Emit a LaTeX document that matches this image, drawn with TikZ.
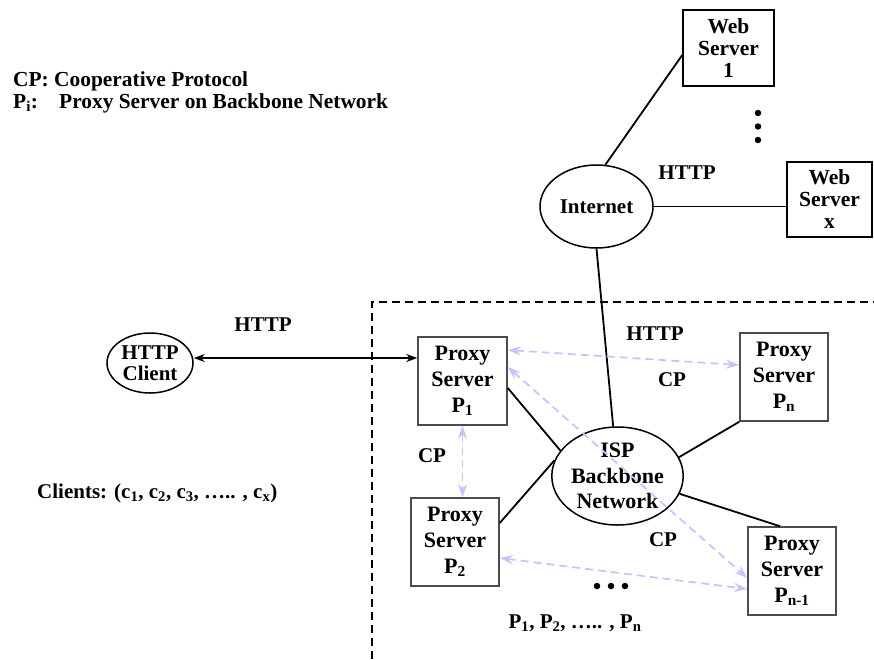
\documentclass[tikz,border=0pt]{standalone}
\usepackage{fontspec}
\setmainfont{Liberation Serif}
\usetikzlibrary{shapes.geometric,arrows.meta}
\tikzset{
  every node/.style={font=\bfseries},
  boxtext/.style={font=\fontsize{22}{26}\selectfont\bfseries, align=center},
  lbl/.style={font=\fontsize{21}{24}\selectfont\bfseries, inner sep=0pt},
  webbox/.style={font=\fontsize{21.5}{22}\selectfont\bfseries, align=center,
                 draw=black, line width=1.5pt, rectangle, inner sep=0pt},
  proxybox/.style={boxtext, draw=black!70, line width=1.5pt, rectangle, inner sep=0pt,
                   minimum width=88pt, minimum height=88pt},
  cloud/.style={boxtext, draw=black, line width=1.5pt, ellipse, inner sep=0pt},
  link/.style={line width=1.8pt, black},
  cp/.style={line width=1.7pt, draw={rgb,255:red,196;green,196;blue,250},
             dash pattern=on 8pt off 5pt, {Stealth[length=13pt,width=9pt]}-{Stealth[length=13pt,width=9pt]}},
  dot/.style={circle, fill=black, inner sep=0pt, minimum size=6.5pt},
}
\begin{document}
\begin{tikzpicture}[x=1pt, y=-1pt]
\useasboundingbox (0,0) rectangle (874,659);

% legend
\node[font=\fontsize{21.4}{22}\selectfont\bfseries, anchor=west, align=left, inner sep=0pt] (legend) at (13,92)
  {CP: Cooperative Protocol\\
   \makebox[46pt][l]{P\textsubscript{i}:}Proxy Server on Backbone Network};

% web servers and the Internet
\node[webbox, minimum width=91pt, minimum height=76pt] (ws1) at (728.5,48) {Web\\Server\\1};
\node[webbox, minimum width=85pt, minimum height=75pt] (wsx) at (829.5,199.5) {Web\\Server\\x};
\node[cloud, font=\fontsize{21}{24}\selectfont\bfseries, minimum width=113pt, minimum height=83pt] (inet) at (596.5,206.5) {Internet};
\node[dot] (d1) at (758,113) {};
\node[dot] (d2) at (758,126.5) {};
\node[dot] (d3) at (758,140) {};
\node[lbl] (httpweb) at (687,173) {HTTP};

% backbone region
\draw[line width=1.6pt, dash pattern=on 8pt off 5pt] (372,659) -- (372,302) -- (874,302);

\node[cloud, font=\fontsize{21}{21}\selectfont\bfseries, minimum width=86pt, minimum height=60pt] (client) at (150,363) {HTTP\\Client};
\node[lbl] (httpcl) at (263,325) {HTTP};
\node[lbl, anchor=west] (clients) at (37,493)
  {Clients: (c\textsubscript{1}, c\textsubscript{2}, c\textsubscript{3}, ….. , c\textsubscript{x})};

\node[proxybox, minimum width=89pt] (p1) at (462.5,381) {Proxy\\Server\\P\textsubscript{1}};
\node[proxybox] (pn) at (784,377) {Proxy\\Server\\P\textsubscript{n}};
\node[proxybox] (p2) at (455,542) {Proxy\\Server\\P\textsubscript{2}};
\node[proxybox] (pm) at (792,571) {Proxy\\Server\\P\textsubscript{n-1}};
\node[cloud, font=\fontsize{22}{25.5}\selectfont\bfseries, minimum width=129pt, minimum height=98pt] (isp) at (617.5,476) {ISP\\Backbone\\Network};

\node[lbl] (httpisp) at (655,334) {HTTP};
\node[lbl] (cptop) at (672,380) {CP};
\node[lbl] (cpleft) at (432,456) {CP};
\node[lbl] (cpbot) at (663,540) {CP};
\node[dot] (e1) at (597,586) {};
\node[dot] (e2) at (611,586) {};
\node[dot] (e3) at (625,586) {};
\node[lbl] (plist) at (575,623) {P\textsubscript{1}, P\textsubscript{2}, ….. , P\textsubscript{n}};

% HTTP links
\draw[link] (inet.78) -- ([yshift=-7pt]ws1.west);
\draw[link] (inet.east) -- (inet.east -| wsx.west);
\draw[link] (inet.south) -- (isp.95);
\draw[link, {Stealth[length=11pt,width=8pt]}-{Stealth[length=11pt,width=8pt]}]
  ([yshift=5pt]client.east) -- ([yshift=5pt]client.east -| p1.west);

% backbone links
\draw[link] ([yshift=-7pt]p1.east) -- (isp.156);
\draw[link] (pn.south west) -- (isp.17);
\draw[link] ([yshift=19pt]p2.east) -- (isp.166);
\draw[link] ([xshift=-12pt]pm.north) -- (isp.-16);

% cooperative protocol exchanges
\draw[cp] ([yshift=31pt]p1.east) -- ([yshift=12pt]pn.west);
\draw[cp] ([yshift=14pt]p1.east) -- ([yshift=-7pt]pm.west);
\draw[cp] (p1.south) -- (p1.south |- p2.north);
\draw[cp] ([yshift=-16pt]p2.east) -- ([yshift=-18pt]pm.west);
\end{tikzpicture}
\end{document}
